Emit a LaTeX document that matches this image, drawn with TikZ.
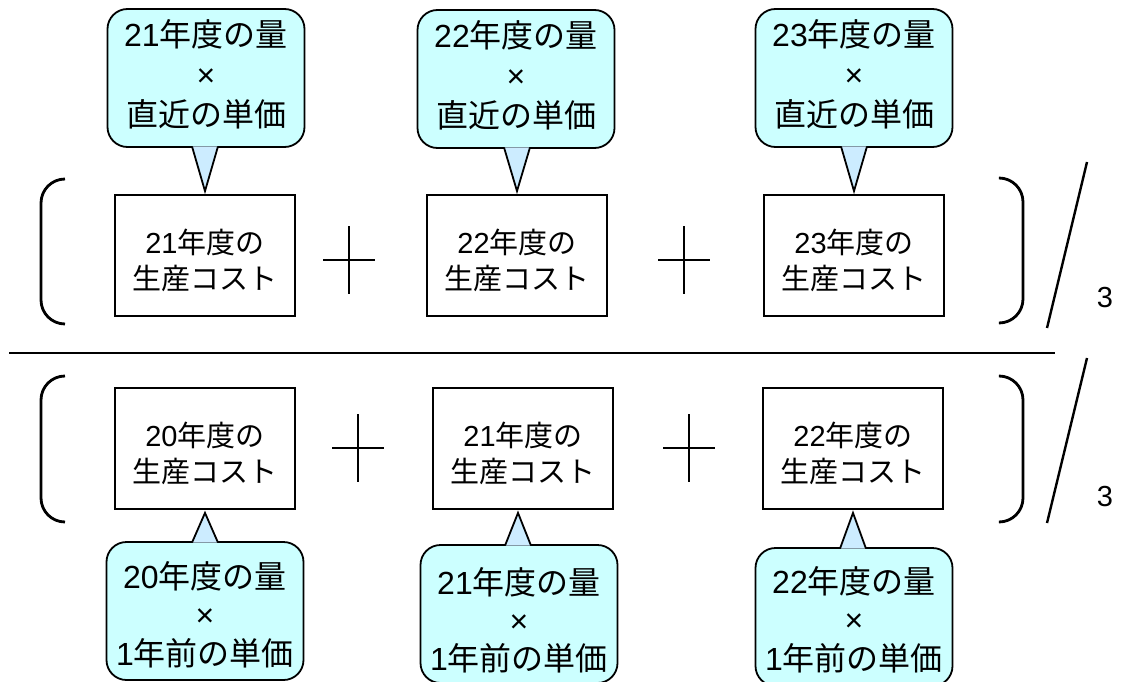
\documentclass[tikz,border=0pt]{standalone}
\usepackage{fontspec}
\setmainfont{Liberation Sans}
\newfontfamily\jp{Noto Sans CJK JP}
\usetikzlibrary{calc}
\definecolor{callfill}{RGB}{204,255,255}
\definecolor{ptrfill}{RGB}{204,236,255}
\tikzset{
  costbox/.style={draw=black, line width=1.8pt, fill=white, minimum width=180pt, minimum height=121pt,
    inner sep=0pt, align=center, font=\fontsize{29}{36}\selectfont},
  callout/.style={draw=black, line width=1.8pt, fill=callfill, rounded corners=20pt,
    minimum width=197pt, minimum height=138pt, inner sep=0pt, align=center,
    font=\fontsize{32}{40}\selectfont},
  ptrline/.style={fill=ptrfill, draw=black, line width=1.8pt, line join=miter},
  thick2/.style={line width=2.8pt},
  slash/.style={line width=2.4pt},
}
\newcommand{\pointer}[2]{% #1 callout edge point, #2 tip
  \path[ptrline] ($(#1 -| #2)+(-13pt,0)$) -- (#2) -- ($(#1 -| #2)+(13pt,0)$);
}
\newcommand{\ctext}[4]{\raisebox{#1}[0pt][0pt]{\begin{tabular}{@{}c@{}}#2\\#3\\#4\end{tabular}}}
\newcommand{\btext}[2]{\raisebox{-15.5pt}[0pt][0pt]{\begin{tabular}{@{}c@{}}#1\\#2\end{tabular}}}
\begin{document}
\begin{tikzpicture}[x=1pt,y=-1pt]
\useasboundingbox (0,0) rectangle (1121,682);
% top row boxes
\node[costbox] (b1) at (205,255.5) {\btext{21{\jp 年度の}}{\jp 生産コスト}};
\node[costbox] (b2) at (517,255.5) {\btext{22{\jp 年度の}}{\jp 生産コスト}};
\node[costbox] (b3) at (854,255.5) {\btext{23{\jp 年度の}}{\jp 生産コスト}};
% top callouts
\node[callout] (c1) at (206,78) {\ctext{-7pt}{21{\jp 年度の量}}{×}{\jp 直近の単価}};
\node[callout] (c2) at (516,79) {\ctext{-7pt}{22{\jp 年度の量}}{×}{\jp 直近の単価}};
\node[callout] (c3) at (854,78) {\ctext{-7pt}{23{\jp 年度の量}}{×}{\jp 直近の単価}};
\coordinate (t1) at ($(b1.north)+(0,3pt)$);
\coordinate (t2) at ($(b2.north)+(0,3pt)$);
\coordinate (t3) at ($(b3.north)+(0,3pt)$);
\coordinate (e1) at ($(c1.south)+(0,1.5pt)$);
\coordinate (e2) at ($(c2.south)+(0,1.5pt)$);
\coordinate (e3) at ($(c3.south)+(0,1.5pt)$);
\pointer{e1}{t1}
\pointer{e2}{t2}
\pointer{e3}{t3}
% bottom row boxes
\node[costbox] (d1) at (205,448.5) {\btext{20{\jp 年度の}}{\jp 生産コスト}};
\node[costbox] (d2) at (523,448.5) {\btext{21{\jp 年度の}}{\jp 生産コスト}};
\node[costbox] (d3) at (853,448.5) {\btext{22{\jp 年度の}}{\jp 生産コスト}};
% bottom callouts
\node[callout, font=\fontsize{32}{38}\selectfont] (k1) at (205,611) {\ctext{-14.5pt}{20{\jp 年度の量}}{×}{1{\jp 年前の単価}}};
\node[callout, font=\fontsize{32}{38}\selectfont] (k2) at (519,614) {\ctext{-17pt}{21{\jp 年度の量}}{×}{1{\jp 年前の単価}}};
\node[callout, font=\fontsize{32}{38}\selectfont] (k3) at (854,617) {\ctext{-13.5pt}{22{\jp 年度の量}}{×}{1{\jp 年前の単価}}};
\coordinate (s1) at ($(d1.south)+(0,-3pt)$);
\coordinate (s2) at ($(d2.south)+(-5pt,-3pt)$);
\coordinate (s3) at ($(d3.south)+(0,-3pt)$);
\coordinate (f1) at ($(k1.north)+(0,-1.5pt)$);
\coordinate (f2) at ($(k2.north)+(0,-1.5pt)$);
\coordinate (f3) at ($(k3.north)+(0,-1.5pt)$);
\pointer{f1}{s1}
\pointer{f2}{s2}
\pointer{f3}{s3}
% plus signs
\foreach \px/\py in {349/260, 684/260, 358/448, 689/448}{
  \draw[thick2] (\px-26,\py) -- (\px+26,\py);
  \draw[thick2] (\px,\py-34) -- (\px,\py+34);
}
% brackets
\draw[thick2, rounded corners=24pt] (65,179) -- (41,179) -- (41,324) -- (65,324);
\draw[thick2, rounded corners=24pt] (1000,178) -- (1023,178) -- (1023,323) -- (1000,323);
\draw[thick2, rounded corners=24pt] (65,376) -- (41,376) -- (41,522) -- (65,522);
\draw[thick2, rounded corners=24pt] (1000,376) -- (1023,376) -- (1023,522) -- (1000,522);
% division line and slashes
\draw[line width=1.8pt] (9,353) -- (1055,353);
\draw[slash] (1087,162) -- (1047,328);
\draw[slash] (1087,358) -- (1047,523);
\node[font=\fontsize{29}{32}\selectfont, inner sep=0pt] (n1) at (1105,298) {3};
\node[font=\fontsize{29}{32}\selectfont, inner sep=0pt] (n2) at (1105,497) {3};
\end{tikzpicture}
\end{document}
